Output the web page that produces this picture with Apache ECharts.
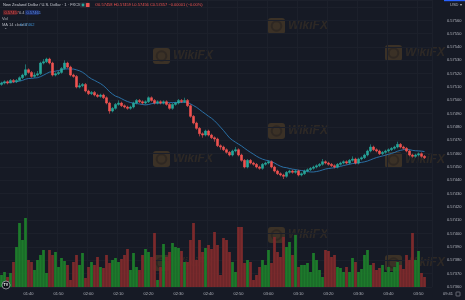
<!DOCTYPE html>
<html><head><meta charset="utf-8">
<script src="https://cdn.jsdelivr.net/npm/echarts@6/dist/echarts.min.js"></script>
<style>html,body{margin:0;padding:0;background:#161a25;overflow:hidden}#c{width:465px;height:300px}</style>
</head><body><div id="c"></div>
<script>
// ---- data ----
const startMinute = 91;          // first candle 01:31, 1-minute bars
const emptyBars = 2;             // right margin bars
const firstOpen = 0.57512;
const closes = [0.57513,0.57514,0.57513,0.57515,0.57514,0.57515,0.57517,0.57519,0.57523,0.57521,
0.57518,0.57519,0.57520,0.57528,0.57529,0.57531,0.57528,0.57519,0.57520,0.57521,
0.57524,0.57528,0.57525,0.57519,0.57518,0.57510,0.57511,0.57512,0.57507,0.57505,
0.57506,0.57504,0.57503,0.57504,0.57502,0.57498,0.57492,0.57494,0.57497,0.57498,
0.57496,0.57495,0.57494,0.57495,0.57498,0.57500,0.57499,0.57498,0.57499,0.57502,
0.57500,0.57498,0.57499,0.57498,0.57499,0.57497,0.57494,0.57497,0.57498,0.57500,
0.57499,0.57500,0.57496,0.57488,0.57483,0.57479,0.57475,0.57474,0.57477,0.57474,
0.57472,0.57471,0.57466,0.57465,0.57463,0.57461,0.57459,0.57462,0.57463,0.57459,
0.57455,0.57450,0.57455,0.57453,0.57452,0.57450,0.57449,0.57452,0.57453,0.57454,
0.57450,0.57447,0.57445,0.57444,0.57443,0.57446,0.57447,0.57446,0.57447,0.57444,
0.57445,0.57447,0.57448,0.57449,0.57450,0.57451,0.57452,0.57454,0.57453,0.57452,
0.57451,0.57450,0.57452,0.57453,0.57454,0.57453,0.57455,0.57456,0.57453,0.57456,
0.57457,0.57459,0.57462,0.57465,0.57463,0.57462,0.57460,0.57461,0.57462,0.57463,
0.57464,0.57465,0.57467,0.57465,0.57464,0.57462,0.57459,0.57458,0.57459,0.57460,
0.57458,0.57457];
const highs = [0.57514,0.57515,0.57515,0.57516,0.57516,0.57516,0.57518,0.57520,0.57527,0.57524,
0.57522,0.57521,0.57522,0.57529,0.57531,0.57532,0.57532,0.57529,0.57521,0.57522,
0.57525,0.57530,0.57529,0.57526,0.57520,0.57519,0.57513,0.57513,0.57513,0.57508,
0.57507,0.57507,0.57505,0.57505,0.57505,0.57503,0.57499,0.57495,0.57498,0.57500,
0.57499,0.57497,0.57496,0.57496,0.57499,0.57501,0.57501,0.57500,0.57500,0.57503,
0.57503,0.57501,0.57500,0.57500,0.57500,0.57500,0.57498,0.57498,0.57499,0.57501,
0.57501,0.57502,0.57501,0.57497,0.57489,0.57484,0.57480,0.57476,0.57478,0.57478,
0.57475,0.57473,0.57472,0.57467,0.57466,0.57464,0.57462,0.57463,0.57465,0.57464,
0.57460,0.57456,0.57456,0.57456,0.57454,0.57453,0.57451,0.57453,0.57454,0.57455,
0.57455,0.57451,0.57448,0.57446,0.57445,0.57447,0.57448,0.57448,0.57448,0.57448,
0.57446,0.57448,0.57449,0.57450,0.57451,0.57452,0.57453,0.57456,0.57455,0.57454,
0.57453,0.57452,0.57453,0.57454,0.57455,0.57455,0.57456,0.57458,0.57457,0.57457,
0.57458,0.57460,0.57463,0.57467,0.57466,0.57464,0.57463,0.57462,0.57463,0.57464,
0.57465,0.57466,0.57469,0.57468,0.57466,0.57465,0.57463,0.57460,0.57460,0.57461,
0.57461,0.57459];
const lows = [0.57511,0.57512,0.57512,0.57513,0.57513,0.57513,0.57515,0.57516,0.57518,0.57520,
0.57517,0.57517,0.57518,0.57519,0.57527,0.57528,0.57527,0.57518,0.57518,0.57519,
0.57520,0.57523,0.57524,0.57518,0.57517,0.57509,0.57509,0.57510,0.57506,0.57504,
0.57504,0.57503,0.57502,0.57502,0.57501,0.57497,0.57490,0.57491,0.57493,0.57496,
0.57495,0.57494,0.57493,0.57493,0.57494,0.57497,0.57498,0.57497,0.57497,0.57498,
0.57499,0.57497,0.57497,0.57497,0.57497,0.57496,0.57493,0.57493,0.57496,0.57497,
0.57498,0.57498,0.57495,0.57487,0.57482,0.57478,0.57473,0.57472,0.57473,0.57473,
0.57471,0.57469,0.57465,0.57463,0.57462,0.57460,0.57458,0.57458,0.57461,0.57458,
0.57454,0.57449,0.57449,0.57452,0.57451,0.57449,0.57448,0.57448,0.57451,0.57452,
0.57449,0.57446,0.57444,0.57443,0.57441,0.57442,0.57445,0.57445,0.57445,0.57443,
0.57443,0.57444,0.57446,0.57447,0.57448,0.57449,0.57450,0.57451,0.57452,0.57451,
0.57450,0.57449,0.57449,0.57451,0.57452,0.57452,0.57452,0.57454,0.57452,0.57452,
0.57455,0.57456,0.57458,0.57461,0.57462,0.57461,0.57459,0.57459,0.57460,0.57461,
0.57462,0.57463,0.57464,0.57464,0.57463,0.57461,0.57458,0.57457,0.57457,0.57458,
0.57457,0.57456];
const volumes = [60,75,50,70,125,200,320,235,345,135,
125,85,135,160,185,70,185,160,175,100,
145,130,110,35,125,160,110,170,45,100,
125,110,150,100,95,160,120,135,145,125,
140,160,190,85,170,100,85,160,190,175,
150,270,35,100,215,150,175,220,200,195,
180,125,125,235,320,135,235,175,195,210,
190,275,210,60,245,235,175,125,75,300,
300,120,135,125,35,60,100,135,110,185,
120,250,175,150,250,200,225,160,260,100,
110,110,120,75,170,135,85,50,185,180,
150,160,100,95,75,100,75,145,125,75,
90,160,185,110,120,85,95,110,75,100,
75,100,125,110,90,160,135,270,135,180,
70,50];
const maPeriod = 14;
const priceMin = 0.5736, priceMax = 0.575753, priceStep = 0.0001;
const volMax = 1435;

// ---- build ----
const nBars = closes.length + emptyBars;
const times = [];
for (let k = 0; k < nBars; k++) {
  const m = startMinute + k;
  times.push(String(Math.floor(m / 60)).padStart(2, '0') + ':' + String(m % 60).padStart(2, '0'));
}
const opens = closes.map((c, i) => i === 0 ? firstOpen : closes[i - 1]);
const candleData = closes.map((c, i) => [opens[i], c, lows[i], highs[i]]);
const ma = closes.map((c, i) => {
  const s = Math.max(0, i - maPeriod + 1);
  let sum = 0; for (let j = s; j <= i; j++) sum += closes[j];
  return +(sum / (i - s + 1)).toFixed(6);
});
const UP = '#26a69a', DOWN = '#ef5350';
const volData = volumes.map((v, i) => ({value: v, itemStyle: {color: closes[i] >= opens[i] ? '#1d7a2b' : '#7b2a2c'}}));
const last = closes[closes.length - 1];
const FONT = 'Liberation Sans';
const tenMin = (idx, val) => val.slice(-1) === '0';

function wm(x, y) {
  return {type: 'group', x: x, y: y, silent: true, z: 100, children: [
    {type: 'rect', shape: {x: 0, y: 0, width: 17, height: 16, r: 3}, style: {fill: 'rgba(140,100,40,0.32)'}},
    {type: 'circle', shape: {cx: 8.5, cy: 8, r: 4.8}, style: {fill: 'none', stroke: 'rgba(30,28,30,0.45)', lineWidth: 2}},
    {type: 'text', x: 20, y: 8, style: {text: 'WikiFX', fontSize: 12, fontWeight: 'bold', fontStyle: 'italic', fill: 'rgba(140,100,40,0.2)', verticalAlign: 'middle', fontFamily: FONT}}
  ]};
}
function txt(x, y, t, fill, extra) {
  return Object.assign({type: 'text', x: x, y: y, z: 101, silent: true,
    style: {text: t, fill: fill, fontSize: 4, fontFamily: FONT, verticalAlign: 'middle'}}, extra || {});
}

const chart = echarts.init(document.getElementById('c'), null, {renderer: 'canvas'});
chart.setOption({
  animation: false,
  backgroundColor: '#161a25',
  grid: [
    {left: 0, right: 33, top: 0, bottom: 13, outerBoundsMode: 'none'},
    {left: 0, right: 33, top: 0, bottom: 13, outerBoundsMode: 'none'}
  ],
  xAxis: [
    {type: 'category', data: times, gridIndex: 0, boundaryGap: true,
      axisLine: {show: false}, axisTick: {show: false},
      axisLabel: {interval: tenMin, color: '#b2b5be', fontSize: 4, fontFamily: FONT, margin: 5},
      splitLine: {show: true, interval: tenMin, lineStyle: {color: '#1c202b', width: 1}}},
    {type: 'category', data: times, gridIndex: 1, boundaryGap: true, show: false}
  ],
  yAxis: [
    {type: 'value', position: 'right', gridIndex: 0, min: priceMin, max: priceMax, interval: priceStep,
      axisLine: {show: false}, axisTick: {show: false},
      axisLabel: {color: '#b2b5be', fontSize: 4, fontFamily: FONT, margin: 15,
        formatter: v => v > 0.57565 ? '' : v.toFixed(5)},
      splitLine: {show: true, lineStyle: {color: '#1c202b', width: 1}}},
    {type: 'value', gridIndex: 1, min: 0, max: volMax, show: false}
  ],
  series: [
    {type: 'bar', name: 'Vol', xAxisIndex: 1, yAxisIndex: 1, data: volData, barCategoryGap: '8%', z: 1},
    {type: 'candlestick', name: 'NZDUSD', xAxisIndex: 0, yAxisIndex: 0, data: candleData, barWidth: 2, z: 3,
      itemStyle: {color: UP, color0: DOWN, borderColor: UP, borderColor0: DOWN, borderWidth: 0.6},
      markLine: {silent: true, symbol: 'none', data: [{yAxis: last}],
        lineStyle: {color: DOWN, type: 'dotted', width: 0.6, opacity: 0.6},
        label: {position: 'end', distance: 15, formatter: last.toFixed(5) + '\n00:24',
          backgroundColor: DOWN, color: '#ffffff', fontSize: 4, lineHeight: 5, fontFamily: FONT,
          padding: [1, 2, 1, 2], borderRadius: 1}}},
    {type: 'line', name: 'MA', xAxisIndex: 0, yAxisIndex: 0, data: ma, showSymbol: false, z: 2,
      lineStyle: {color: '#2f84c4', width: 0.8}}
  ],
  graphic: [
    wm(153, 48), wm(268, 18), wm(385, 45),
    wm(268, 123), wm(153, 151), wm(385, 152),
    wm(268, 227), wm(153, 255), wm(385, 255),
    txt(3, 5, 'New Zealand Dollar / U.S. Dollar · 1 · FXCM', '#c9ccd4'),
    {type: 'rect', z: 101, shape: {x: 80, y: 2.5, width: 10, height: 5, r: 1}, style: {fill: '#2a2e39'}},
    {type: 'circle', z: 102, shape: {cx: 83, cy: 5, r: 1.4}, style: {fill: UP}},
    {type: 'rect', z: 102, shape: {x: 86, y: 3, width: 3.5, height: 4, r: 0.5}, style: {fill: DOWN}},
    txt(95, 5, 'O0.57458 H0.57459 L0.57456 C0.57457 −0.00001 (−0.00%)', DOWN),
    {type: 'rect', z: 101, shape: {x: 3, y: 10, width: 14, height: 5, r: 1}, style: {fill: '#4a1f27'}},
    txt(4.5, 12.6, last.toFixed(5), DOWN, {}),
    txt(19, 12.6, '0.4', '#b2b5be'),
    {type: 'rect', z: 101, shape: {x: 25, y: 10, width: 14, height: 5, r: 1}, style: {fill: '#1c2b5e'}},
    txt(26.5, 12.6, '0.57461', '#5b8def'),
    txt(2, 19, 'Vol', '#b2b5be'),
    txt(2, 24.5, 'MA 14 close 0', '#b2b5be'),
    txt(20, 24.5, ma[ma.length - 1].toFixed(5), '#3d8fd1'),
    txt(4, 30, '⌃', '#b2b5be'),
    {type: 'rect', z: 101, shape: {x: 444, y: 0, width: 21, height: 1.2}, style: {fill: '#2962ff'}},
    txt(450, 5, 'USD ▾', '#b2b5be'),
    {type: 'circle', z: 101, shape: {cx: 6, cy: 285, r: 4}, style: {fill: '#0f1118', stroke: '#d1d4dc', lineWidth: 0.6}},
    txt(3.6, 285, 'TV', '#ffffff', {style: {text: 'TV', fill: '#ffffff', fontSize: 3.6, fontWeight: 'bold', fontFamily: FONT, verticalAlign: 'middle'}}),
    txt(443, 294, '09:41', '#b2b5be'),
    {type: 'rect', z: 101, shape: {x: 456, y: 292, width: 4, height: 4, r: 0.5}, style: {fill: 'none', stroke: '#b2b5be', lineWidth: 0.5}}
  ]
});
</script>
</body></html>
